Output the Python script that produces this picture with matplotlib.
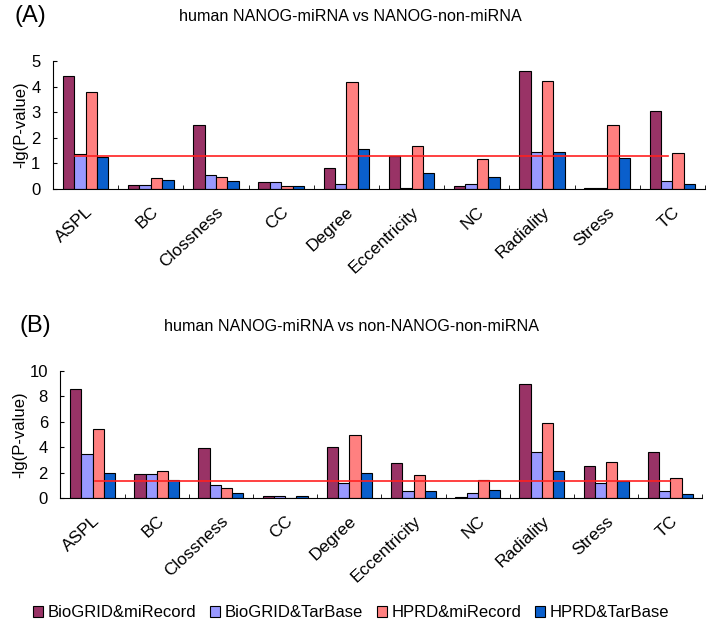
import numpy as np
import matplotlib.pyplot as plt

plt.rcParams['font.family'] = ['Liberation Sans', 'DejaVu Sans']

categories = ['ASPL', 'BC', 'Clossness', 'CC', 'Degree', 'Eccentricity',
              'NC', 'Radiality', 'Stress', 'TC']
series = ['BioGRID&miRecord', 'BioGRID&TarBase', 'HPRD&miRecord', 'HPRD&TarBase']
colors = ['#993366', '#9999FF', '#FF8080', '#0A5FCC']

# panel A: NANOG-miRNA vs NANOG-non-miRNA
a_bio_mir = [4.41, 0.17, 2.51, 0.29, 0.82, 1.28, 0.12, 4.63, 0.04, 3.04]
a_bio_tar = [1.35, 0.17, 0.56, 0.29, 0.21, 0.04, 0.18, 1.44, 0.04, 0.33]
a_hprd_mir = [3.78, 0.43, 0.47, 0.12, 4.19, 1.70, 1.18, 4.23, 2.50, 1.40]
a_hprd_tar = [1.27, 0.37, 0.33, 0.10, 1.58, 0.62, 0.47, 1.44, 1.22, 0.21]

# panel B: NANOG-miRNA vs non-NANOG-non-miRNA
b_bio_mir = [8.56, 1.91, 3.90, 0.16, 4.00, 2.75, 0.10, 8.95, 2.49, 3.64]
b_bio_tar = [3.46, 1.91, 1.05, 0.16, 1.18, 0.52, 0.37, 3.64, 1.18, 0.52]
b_hprd_mir = [5.42, 2.15, 0.79, 0.02, 4.97, 1.78, 1.41, 5.94, 2.83, 1.57]
b_hprd_tar = [1.96, 1.41, 0.37, 0.16, 1.96, 0.52, 0.63, 2.15, 1.31, 0.29]

threshold = 1.3  # -lg(0.05)

fig = plt.figure(figsize=(7.11, 6.26), dpi=100)
axA = fig.add_axes([0.0745, 0.698, 0.917, 0.2045])
axB = fig.add_axes([0.085, 0.2045, 0.903, 0.2028])


def draw_panel(ax, data, ymax, ystep, line_span, ylab_x):
    x = np.arange(len(categories))
    w = 0.175
    for i, vals in enumerate(data):
        ax.bar(x + (i - 1.5) * w, vals, w, color=colors[i], edgecolor='black',
               linewidth=0.8, label=series[i])
    ax.plot(line_span, [threshold, threshold], color='#FF2020', lw=1.2)
    ax.set_xlim(-0.5, len(categories) - 0.5)
    ax.set_ylim(0, ymax)
    ax.set_yticks(np.arange(0, ymax + 0.01, ystep))
    ax.set_xticks(x)
    ax.set_xticklabels(categories, rotation=43, ha='right', va='top',
                       rotation_mode='anchor', fontsize=12.5)
    ax.set_xticks(np.arange(-0.5, len(categories)), minor=True)
    ax.tick_params(axis='x', which='major', length=0, pad=11)
    ax.tick_params(axis='x', which='minor', length=3, direction='in')
    ax.tick_params(axis='y', labelsize=12, length=3, direction='in', pad=9)
    ax.spines['top'].set_visible(False)
    ax.spines['right'].set_visible(False)
    ax.set_ylabel('-lg(P-value)', fontsize=12)
    ax.yaxis.set_label_coords(ylab_x, 0.5)


draw_panel(axA, [a_bio_mir, a_bio_tar, a_hprd_mir, a_hprd_tar], 5, 1,
           [-0.16, 8.93], -0.038)
draw_panel(axB, [b_bio_mir, b_bio_tar, b_hprd_mir, b_hprd_tar], 10, 2,
           [0.04, 8.99], -0.051)

fig.text(0.02, 0.974, '(A)', fontsize=17, va='center')
fig.text(0.493, 0.974, 'human NANOG-miRNA vs NANOG-non-miRNA', fontsize=11.6,
         ha='center', va='center')
fig.text(0.027, 0.48, '(B)', fontsize=17, va='center')
fig.text(0.495, 0.478, 'human NANOG-miRNA vs non-NANOG-non-miRNA', fontsize=11.6,
         ha='center', va='center')

handles, labels = axB.get_legend_handles_labels()
fig.legend(handles, labels, loc='center', bbox_to_anchor=(0.494, 0.021), ncol=4,
           frameon=False, fontsize=12, handlelength=0.6, handleheight=0.6,
           handletextpad=0.3, columnspacing=0.8)

fig.savefig('out.png', dpi=100)
